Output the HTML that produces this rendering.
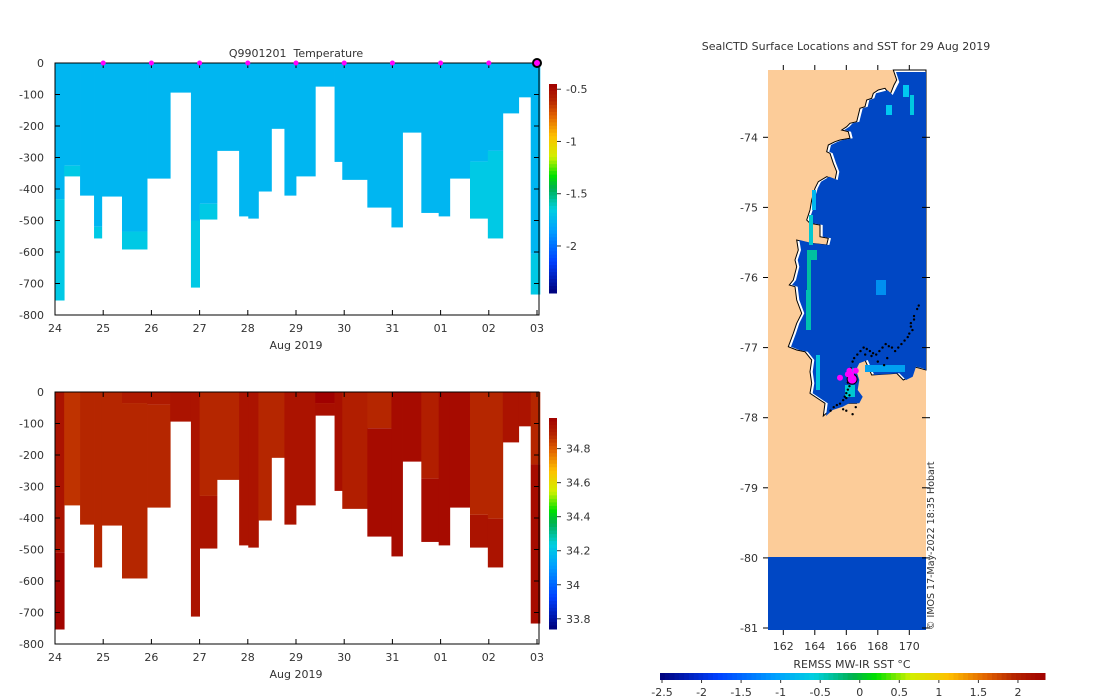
<!DOCTYPE html>
<html><head><meta charset="utf-8">
<style>
html,body{margin:0;padding:0;background:#fff;}
svg{display:block;font-family:"DejaVu Sans","Liberation Sans",sans-serif;}
text{fill:#333;font-size:11px;white-space:pre;}
</style></head>
<body>
<svg id="svg" width="1100" height="700" viewBox="0 0 1100 700" xmlns="http://www.w3.org/2000/svg"></svg>
<script>
// ===== data =====
const dayLabels = ["24","25","26","27","28","29","30","31","01","02","03"];
const depthTicks = [0,100,200,300,400,500,600,700,800];
const colEdges = [0,0.19,0.52,0.81,0.97,1.39,1.91,2.39,2.82,3.0,3.36,3.82,4.01,4.22,4.49,4.76,5.0,5.40,5.80,5.96,6.48,6.98,7.21,7.60,7.96,8.19,8.61,8.98,9.29,9.62,9.87,10.06];
const colBottom = [754,360,421,557,424,592,367,94,713,497,279,487,494,408,209,421,360,75,314,371,459,522,221,476,487,367,494,557,160,109,735];
const tempMain = -1.76;
const tempLight = -1.68;
const tempLightFrom = [432,326,null,520,null,535,null,null,500,447,null,null,null,null,null,null,null,null,null,null,null,null,null,null,null,null,313,279,null,null,606];
const salUpper = [34.93,34.86,34.88,34.88,34.88,34.91,34.91,34.93,34.93,34.88,34.88,34.93,34.93,34.88,34.88,34.93,34.93,34.98,34.94,34.9,34.88,34.95,34.95,34.9,34.95,34.95,34.88,34.88,34.93,34.93,34.88];
const salBreak = [510,0,0,0,0,35,40,0,0,330,0,0,0,0,0,0,0,35,0,0,115,0,0,275,0,0,390,402,0,0,230];
const salLower = [34.97,34.86,34.88,34.88,34.88,34.88,34.88,34.93,34.93,34.93,34.88,34.93,34.93,34.88,34.88,34.93,34.93,34.94,34.94,34.9,34.95,34.95,34.95,34.95,34.95,34.95,34.93,34.93,34.93,34.93,34.95];
const markerDays = [1,2,3,4,5,6,7,8,9];
const tempCbTicks = [-0.5,-1,-1.5,-2];
const salCbTicks = [34.8,34.6,34.4,34.2,34,33.8];
const lonTicks = [162,164,166,168,170];
const latTicks = [-74,-75,-76,-77,-78,-79,-80,-81];
const sstTicks = [-2.5,-2,-1.5,-1,-0.5,0,0.5,1,1.5,2];
const trackLon = [165.0,165.2,165.4,165.6,165.8,165.9,166.0,166.1,166.2,166.1,166.2,166.3,166.2,166.3,166.4,166.5,166.7,166.9,167.1,167.3,167.5,167.7,167.9,168.1,168.3,168.5,168.7,168.9,169.1,169.3,169.5,169.7,169.9,170.1,170.3,170.5,170.6,170.3,170.1,167.2,167.6,168.0,168.4,168.6,165.8,166.0,166.4,166.6,166.0,166.2,170.0,170.2];
const trackLat = [-77.9,-77.85,-77.82,-77.8,-77.75,-77.7,-77.65,-77.6,-77.55,-77.5,-77.45,-77.4,-77.35,-77.3,-77.2,-77.15,-77.1,-77.05,-77.0,-77.02,-77.05,-77.08,-77.1,-77.05,-77.0,-76.95,-76.98,-77.0,-77.05,-77.0,-76.95,-76.9,-76.85,-76.7,-76.6,-76.45,-76.4,-76.55,-76.65,-77.1,-77.12,-77.2,-77.25,-77.15,-77.88,-77.9,-77.95,-77.85,-77.72,-77.68,-76.8,-76.75];
const magLon = [166.2,166.37,165.6,166.6,166.3,166.1];
const magLat = [-77.33,-77.45,-77.43,-77.33,-77.38,-77.38];
const magSize = [3,5,3,3,3,3];

// ===== helpers =====
const svg = document.getElementById('svg');
const NS = 'http://www.w3.org/2000/svg';
function mk(tag, attrs, parent){ const e=document.createElementNS(NS,tag); for(const k in attrs) e.setAttribute(k,attrs[k]); (parent||svg).appendChild(e); return e; }
function txt(x,y,s,anchor,parent){ const t=mk('text',{x:x,y:y,'text-anchor':anchor||'middle'},parent); t.textContent=s; return t; }
const stops = [[0,[0,0,122]],[0.15,[0,64,255]],[0.3,[0,160,255]],[0.4,[0,208,224]],[0.5,[0,176,80]],[0.56,[0,224,0]],[0.65,[208,240,0]],[0.75,[255,192,0]],[0.85,[224,96,0]],[0.92,[181,37,0]],[1,[160,0,0]]];
function cmap(t){ t=Math.max(0,Math.min(1,t)); for(let i=1;i<stops.length;i++){ if(t<=stops[i][0]){ const a=stops[i-1],b=stops[i]; const f=(t-a[0])/(b[0]-a[0]); const c=a[1].map((v,j)=>Math.round(v+(b[1][j]-v)*f)); return 'rgb('+c.join(',')+')'; } } return 'rgb(160,0,0)'; }
const tMin=-2.45,tMax=-0.45, sMin=33.74,sMax=34.98;
function tCol(v){return cmap((v-tMin)/(tMax-tMin));}
function sCol(v){return cmap((v-sMin)/(sMax-sMin));}

function section(y0, kind){
  const xT = d => 55 + d*48.2;
  const yD = z => y0 + z*0.315;
  const g = mk('g',{});
  
  
  for(let i=0;i<colBottom.length;i++){
    const x0=xT(colEdges[i]), x1=xT(colEdges[i+1]);
    if(kind==='t'){
      const lf = tempLightFrom[i];
      const r = mk('rect',{x:x0,y:yD(0),width:x1-x0+0.4,height:yD(lf!==null?lf:colBottom[i])-yD(0),fill:tCol(tempMain)},g);
       
      if(lf!==null){
        const r2 = mk('rect',{x:x0,y:yD(lf),width:x1-x0+0.4,height:yD(colBottom[i])-yD(lf),fill:tCol(tempLight)},g);
         
      }
    } else {
      const br = salBreak[i]>0 ? salBreak[i] : colBottom[i];
      const r = mk('rect',{x:x0,y:yD(0),width:x1-x0+0.4,height:yD(br)-yD(0),fill:sCol(salUpper[i])},g);
       
      if(salBreak[i]>0){
        const r2 = mk('rect',{x:x0,y:yD(br),width:x1-x0+0.4,height:yD(colBottom[i])-yD(br),fill:sCol(salLower[i])},g);
         
      }
    }
  }
  const fr = mk('rect',{x:55,y:yD(0),width:484,height:yD(800)-yD(0),fill:'none',stroke:'#000','stroke-width':1},g);
   
  depthTicks.forEach(d=>{
    mk('line',{x1:55,x2:60,y1:yD(d),y2:yD(d),stroke:'#000'},g);
    mk('line',{x1:534,x2:539,y1:yD(d),y2:yD(d),stroke:'#000'},g);
    const t=txt(44,yD(d)+4,d===0?'0':'-'+d,'end',g);
     
  });
  dayLabels.forEach((l,i)=>{
    mk('line',{x1:xT(i),x2:xT(i),y1:yD(800),y2:yD(800)-5,stroke:'#000'},g);
    mk('line',{x1:xT(i),x2:xT(i),y1:yD(0),y2:yD(0)+5,stroke:'#000'},g);
    const t=txt(xT(i),yD(800)+17,l,'middle',g);
     
  });
  const xl=txt(296,yD(800)+34,'Aug 2019','middle',g);
   
  if(kind==='t'){
    markerDays.forEach(d=>{
      const c=mk('circle',{cx:xT(d),cy:yD(0),r:2.5,fill:'#ff00ff'},g);
       
    });
    const c=mk('circle',{cx:xT(10),cy:yD(0),r:4,fill:'#ff00ff',stroke:'#000','stroke-width':2},g);
     
  }
  return {xT,yD};
}

let tt=txt(296,57,'Q9901201  Temperature');  
section(63,'t');
section(392,'s');

function vbar(top,bot,vTop,vBot,ticks,colFn,name,fmt){
  const g=mk('g',{});  
  const n=60;
  for(let i=0;i<n;i++){
    const v=vTop+(vBot-vTop)*(i+0.5)/n;
    mk('rect',{x:549,y:top+(bot-top)*i/n,width:8,height:(bot-top)/n+0.5,fill:colFn(v)},g);
  }
  ticks.forEach(v=>{
    const y=top+(v-vTop)/(vBot-vTop)*(bot-top);
    mk('line',{x1:557,x2:561,y1:y,y2:y,stroke:'#333'},g);
    const t=txt(566,y+4,fmt(v),'start',g);
     
  });
}
vbar(84,293,tMax,tMin,tempCbTicks,tCol,'temperature-colorbar',v=>String(v));
vbar(418,629,sMax,sMin,salCbTicks,sCol,'salinity-colorbar',v=>String(v));

// ===== map =====
const lonX = lo => 783.3 + (lo-162)*15.75;
const latY = la => 137.3 + (-74-la)*70.1;
const mg=mk('g',{});  
let mt=txt(846,50,'SealCTD Surface Locations and SST for 29 Aug 2019');  
mk('rect',{x:768,y:70,width:158,height:560,fill:'#fccc99'},mg);
const sb=mk('rect',{x:768,y:557,width:158,height:73,fill:'#0047c4'},mg);  
const zp=[[490,30],[500,60],[492,75],[480,105],[465,85],[445,90],[430,100],[425,115],[410,120],[405,140],[390,145],[380,185],[360,190],[350,200],[335,210],[355,215],[360,235],[330,240],[315,245],[295,255],[290,275],[300,280],[310,310],[320,335],[315,360],[290,350],[265,365],[255,385],[245,420],[240,450],[230,480],[240,490],[270,495],[270,530],[295,535],[290,555],[240,550],[200,540],[205,570],[195,600],[200,620],[190,660],[178,675],[195,680],[200,720],[215,760],[200,790],[190,820],[175,860],[200,870],[225,875],[245,900],[240,935],[245,970],[240,1000],[270,1020],[285,1030],[280,1068],[300,1050],[330,1040],[350,1030],[380,1030],[390,1010],[375,990],[380,960],[370,930],[380,910],[405,900],[425,945],[500,940],[520,960],[540,950],[550,920],[570,925],[588,930],[588,30]];
const pts=zp.map(p=>(730+p[0]/3).toFixed(1)+','+(60+p[1]/3).toFixed(1)).join(' ');
const ow=mk('polygon',{points:pts,fill:'#fff',stroke:'#000','stroke-width':1},mg);  
const zpi=zp.map(p=>[Math.min(588,p[0]+8),p[1]+(p[1]<100?6:0)]);
const oc=mk('polygon',{points:zpi.map(p=>(730+p[0]/3).toFixed(1)+','+(60+p[1]/3).toFixed(1)).join(' '),fill:'#0047c4'},mg);  
[[812,190,4,20,'#00b8f0'],[809,215,4,30,'#00c8d0'],[807,250,4,40,'#00c0a0'],[811,250,6,10,'#00c0a0'],[806,290,5,40,'#00c0b0'],[816,355,4,35,'#00c0e0'],[850,368,4,16,'#00c0e0'],[865,365,40,7,'#00a0f0'],[876,280,10,15,'#0090f0'],[903,85,6,12,'#00c8f0'],[910,95,4,20,'#00c8e0'],[886,105,6,10,'#00c8f0'],[845,385,10,12,'#00c8d0']].forEach(c=>{
  const r=mk('rect',{x:c[0],y:c[1],width:c[2],height:c[3],fill:c[4]},mg);  
});
trackLon.forEach((lo,i)=>{
  const c=mk('circle',{cx:lonX(lo),cy:latY(trackLat[i]),r:1.2,fill:'#000'},mg);
   
});
magLon.forEach((lo,i)=>{
  const c=mk('circle',{cx:lonX(lo),cy:latY(magLat[i]),r:magSize[i],fill:'#ff00ff',stroke:i===1?'#000':'none'},mg);
   
});
lonTicks.forEach(lo=>{
  mk('line',{x1:lonX(lo),x2:lonX(lo),y1:65,y2:70,stroke:'#000'},mg);
  mk('line',{x1:lonX(lo),x2:lonX(lo),y1:630,y2:635,stroke:'#000'},mg);
  const t=txt(lonX(lo),650,String(lo),'middle',mg);  
});
latTicks.forEach(la=>{
  mk('line',{x1:763,x2:768,y1:latY(la),y2:latY(la),stroke:'#000'},mg);
  mk('line',{x1:922,x2:930,y1:latY(la),y2:latY(la),stroke:'#000'},mg);
  const t=txt(758,latY(la)+4,String(la),'end',mg);  
});
const cp=mk('text',{x:0,y:0,transform:'translate(934,630) rotate(-90)','text-anchor':'start',style:'font-size:9.5px'},mg);
cp.textContent='© IMOS 17-May-2022 18:35 Hobart';  

const hb=mk('g',{});  
const sx = v => 662 + (v+2.5)*79.1;
const hMin=-2.5, hMax=(1045-662)/79.1-2.5;
for(let i=0;i<80;i++){
  const v=hMin+(hMax-hMin)*(i+0.5)/80;
  mk('rect',{x:660+385*i/80,y:673,width:385/80+0.5,height:7,fill:cmap((v-hMin)/(hMax-hMin))},hb);
}
sstTicks.forEach(v=>{
  mk('line',{x1:sx(v),x2:sx(v),y1:680,y2:683,stroke:'#333'},hb);
  const t=txt(sx(v),696,String(v),'middle',hb);  
});
const st=txt(852,668,'REMSS MW-IR SST °C','middle',hb);  
</script>
</body></html>
